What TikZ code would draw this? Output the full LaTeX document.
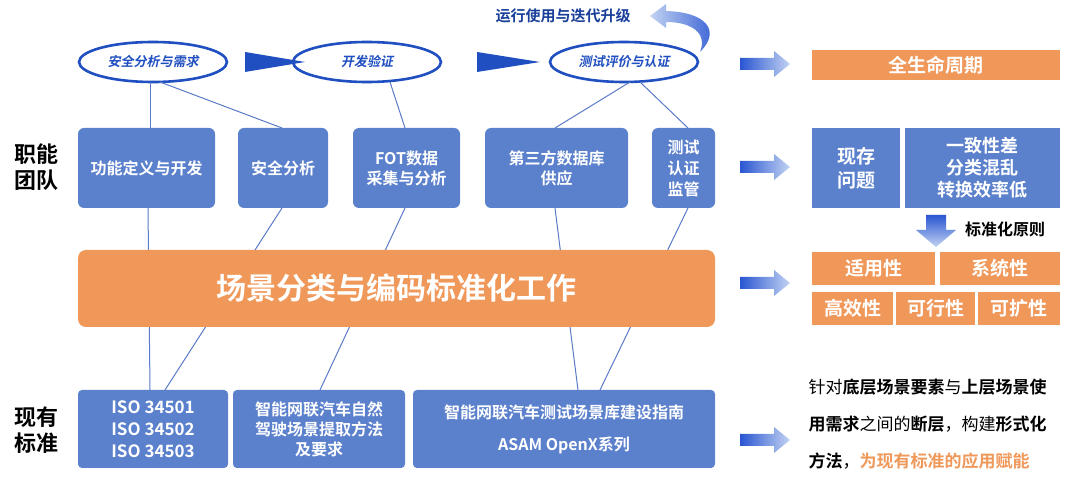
\documentclass[tikz,border=0pt]{standalone}
\usepackage{fontspec}
\setmainfont{Noto Sans CJK SC}[BoldFont={Noto Sans CJK SC Bold},ItalicFont={Noto Sans CJK SC},ItalicFeatures={FakeSlant=0.2},BoldItalicFont={Noto Sans CJK SC Bold},BoldItalicFeatures={FakeSlant=0.2}]
\usetikzlibrary{arrows.meta,shapes.geometric}
\definecolor{bbox}{HTML}{5B80CC}
\definecolor{obox}{HTML}{F0985A}
\definecolor{edark}{HTML}{1F4FC0}
\definecolor{lnk}{HTML}{5A7CC8}
\definecolor{gdark}{HTML}{2A56D2}
\definecolor{glight}{HTML}{C2D3F2}
\tikzset{
 bluebox/.style={fill=bbox,rounded corners=6pt,text=white,font=\bfseries\fontsize{16}{20}\selectfont,align=center,inner sep=0},
 orbox/.style={fill=obox,text=white,font=\bfseries\fontsize{19}{22}\selectfont,align=center,inner sep=0},
 ell/.style={draw=edark,line width=2.6pt,ellipse,fill=white,text=edark,font=\bfseries\itshape\fontsize{13}{15}\selectfont,minimum width=148pt,minimum height=40pt},
 lnkline/.style={draw=lnk,line width=1pt},
 lbl/.style={font=\bfseries\fontsize{22}{26}\selectfont,align=center}
}
\newcommand{\rbox}[6]{\node[#1,minimum width=#4pt-#2pt,minimum height=#5pt-#3pt] (#6) at ({(#2+#4)/2},{(#3+#5)/2}) {};}
\newcommand{\garrow}[2]{\shade[left color=gdark,right color=glight] (#1,#2-6) -- (#1+34,#2-6) -- (#1+34,#2-13) -- (#1+50,#2) -- (#1+34,#2+13) -- (#1+34,#2+6) -- (#1,#2+6) -- cycle;}
\begin{document}
\begin{tikzpicture}[x=1pt,y=-1pt]
\useasboundingbox (0,0) rectangle (1080,478);
\fill[white] (0,0) rectangle (1080,478);
% ellipses
\node[ell] (e1) at (153,62) {安全分析与需求};
\node[ell] (e2) at (367,62) {开发验证};
\node[ell] (e3) at (624,62) {测试评价与认证};
\fill[edark] (245,52) -- (305,62) -- (245,72) -- cycle;
\fill[edark] (477,52) -- (540,62) -- (477,72) -- cycle;
% top text + curved arrow
\node[text=edark!80!black,font=\bfseries\fontsize{15}{17}\selectfont] (t0) at (563,16) {运行使用与迭代升级};
\shade[left color=glight,right color=gdark] (650,16) -- (666,4) -- (666,11) .. controls (705,12) and (722,30) .. (700,52) .. controls (708,32) and (690,22) .. (666,22) -- (666,28) -- cycle;
% boxes
\rbox{bluebox}{78}{128}{215}{208}{b1}
\rbox{bluebox}{238}{128}{328}{208}{b2}
\rbox{bluebox}{353}{128}{460}{208}{b3}
\rbox{bluebox}{485}{128}{628}{208}{b4}
\rbox{bluebox}{652}{128}{715}{208}{b5}
\node[bluebox] at (b1) {功能定义与开发};
\node[bluebox] at (b2) {安全分析};
\node[bluebox] at (b3) {FOT数据\\采集与分析};
\node[bluebox] at (b4) {第三方数据库\\供应};
\node[bluebox,font=\bfseries\fontsize{16}{21}\selectfont] at (b5) {测试\\认证\\监管};
\rbox{bluebox,rounded corners=4pt}{78}{390}{228}{468}{s1}
\rbox{bluebox,rounded corners=4pt}{233}{390}{405}{468}{s2}
\rbox{bluebox,rounded corners=4pt}{413}{390}{715}{468}{s3}
\node[bluebox,font=\bfseries\fontsize{17}{22}\selectfont] at (s1) {ISO 34501\\ISO 34502\\ISO 34503};
\node[bluebox] at (s2) {智能网联汽车自然\\驾驶场景提取方法\\及要求};
\node[bluebox,font=\bfseries\fontsize{16}{32}\selectfont] at (s3) {智能网联汽车测试场景库建设指南\\ASAM OpenX系列};
% links
\draw[lnkline] (150,82) -- (150,128);
\draw[lnkline] (160,82) -- (282,128);
\draw[lnkline] (390,82) -- (405,128);
\draw[lnkline] (630,82) -- (555,128);
\draw[lnkline] (640,82) -- (688,128);
\draw[lnkline] (148,208) -- (150,390);
\draw[lnkline] (282,208) -- (165,390);
\draw[lnkline] (405,208) -- (320,390);
\draw[lnkline] (555,208) -- (578,390);
\draw[lnkline] (688,208) -- (600,390);
% big bar
\rbox{fill=obox,rounded corners=8pt}{78}{250}{715}{327}{bar}
\node[text=white,font=\bfseries\fontsize{30}{34}\selectfont] at (bar) {场景分类与编码标准化工作};
% left labels
\node[lbl] (l1) at (36,167) {职能\\团队};
\node[lbl] (l2) at (36,430) {现有\\标准};
% right arrows
\garrow{740}{64}
\garrow{740}{167}
\garrow{740}{283}
\garrow{740}{440}
% right side
\rbox{orbox}{812}{50}{1060}{80}{r0}
\node[orbox] at (r0) {全生命周期};
\rbox{bluebox,rounded corners=0pt}{812}{128}{900}{208}{r1}
\rbox{bluebox,rounded corners=0pt}{905}{128}{1060}{208}{r2}
\node[bluebox,font=\bfseries\fontsize{19}{24}\selectfont] at (r1) {现存\\问题};
\node[bluebox,font=\bfseries\fontsize{18}{22}\selectfont] at (r2) {一致性差\\分类混乱\\转换效率低};
\shade[top color=gdark,bottom color=glight] (926,215) -- (946,215) -- (946,230) -- (956,230) -- (936,247) -- (916,230) -- (926,230) -- cycle;
\node[font=\bfseries\fontsize{16}{18}\selectfont] (p) at (1005,229) {标准化原则};
\rbox{orbox}{812}{252}{935}{285}{o1}
\rbox{orbox}{940}{252}{1060}{285}{o2}
\rbox{orbox}{812}{292}{893}{325}{o3}
\rbox{orbox}{896}{292}{975}{325}{o4}
\rbox{orbox}{978}{292}{1060}{325}{o5}
\node[orbox] at (o1) {适用性};
\node[orbox] at (o2) {系统性};
\node[orbox] at (o3) {高效性};
\node[orbox] at (o4) {可行性};
\node[orbox] at (o5) {可扩性};
\node[anchor=west,align=left,font=\fontsize{17}{37}\selectfont] (rt) at (805,424) {针对\textbf{底层场景要素}与\textbf{上层场景使}\\\textbf{用需求}之间的\textbf{断层}，构建\textbf{形式化}\\\textbf{方法}，\textcolor{obox}{\textbf{为现有标准的应用赋能}}};
\end{tikzpicture}
\end{document}
